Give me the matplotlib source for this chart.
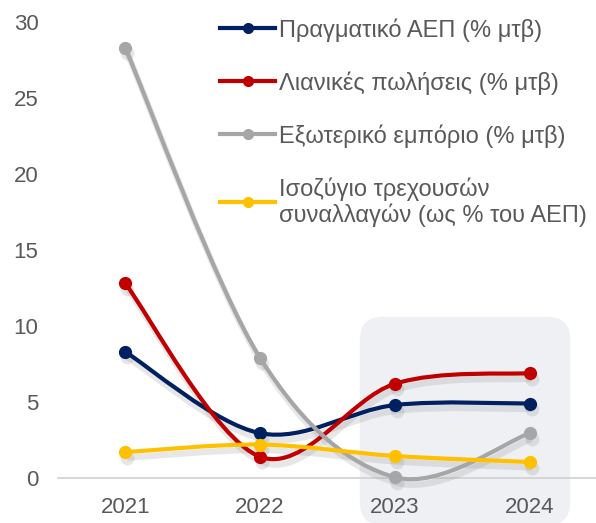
import numpy as np
import matplotlib
matplotlib.use("Agg")
import matplotlib.pyplot as plt
from matplotlib.path import Path
from matplotlib.patches import PathPatch, FancyBboxPatch
from matplotlib.lines import Line2D
import matplotlib.transforms as mtransforms

# data
years = ["2021", "2022", "2023", "2024"]
gdp = [8.3, 2.95, 4.8, 4.9]
retail = [12.8, 1.4, 6.2, 6.9]
trade = [28.3, 7.9, 0.05, 2.95]
current_acc = [1.7, 2.2, 1.45, 1.05]

labels = ["Πραγματικό ΑΕΠ (% μτβ)",
          "Λιανικές πωλήσεις (% μτβ)",
          "Εξωτερικό εμπόριο (% μτβ)",
          "Ισοζύγιο τρεχουσών\nσυναλλαγών (ως % του ΑΕΠ)"]
colors = ["#002060", "#c00000", "#a6a6a6", "#ffc000"]
series = [gdp, retail, trade, current_acc]

plt.rcParams['font.family'] = ['Liberation Sans', 'DejaVu Sans']


def smooth_path(xs, ys):
    # excel-like smoothed line: bezier segments through the points
    pts = np.column_stack([xs, ys]).astype(float)
    n = len(pts)
    verts = [pts[0]]
    codes = [Path.MOVETO]
    for i in range(n - 1):
        p0 = pts[max(i - 1, 0)]
        p1 = pts[i]
        p2 = pts[i + 1]
        p3 = pts[min(i + 2, n - 1)]
        c1 = p1 + (p2 - p0) / 6.0
        c2 = p2 - (p3 - p1) / 6.0
        verts += [c1, c2, p2]
        codes += [Path.CURVE4] * 3
    return Path(verts, codes)


fig = plt.figure(figsize=(5.96, 5.23), dpi=100)
ax = fig.add_axes([0.097, 0.086, 0.905, 0.872])
ax.set_xlim(-0.5, 3.5)
ax.set_ylim(0, 30)

x = np.arange(len(years))

# shaded box behind 2023-2024
ax_w = 0.905 * 596
ax_h = 0.872 * 523
aspect = (30 / ax_h) / (4.0 / ax_w)
box = FancyBboxPatch((1.74, -3.1), 1.56, 13.7,
                     boxstyle="round,pad=0,rounding_size=0.17",
                     mutation_aspect=aspect,
                     fc="#eef0f4", ec="none", zorder=0, clip_on=False)
ax.add_patch(box)

# soft drop shadow offset
shadow_tr = ax.transData + mtransforms.ScaledTranslation(1.5 / 72, -4 / 72, fig.dpi_scale_trans)

for vals, col in zip(series, colors):
    path = smooth_path(x, vals)
    sh = PathPatch(path, fc="none", ec="#7f7f7f", lw=4.5, alpha=0.18,
                   zorder=2, clip_on=False, transform=shadow_tr)
    ax.add_patch(sh)
    ax.plot(x, vals, ls="none", marker="o", ms=10, color="#7f7f7f", alpha=0.18,
            zorder=2, clip_on=False, transform=shadow_tr, markeredgewidth=0)
for vals, col in zip(series, colors):
    patch = PathPatch(smooth_path(x, vals), fc="none", ec=col, lw=3.0,
                      capstyle="round", zorder=3, clip_on=False)
    ax.add_patch(patch)
    ax.plot(x, vals, ls="none", marker="o", ms=8.5, color=col, zorder=4,
            clip_on=False)

# axes styling
for s in ["left", "right", "top"]:
    ax.spines[s].set_visible(False)
ax.spines["bottom"].set_color("#d0d0d0")
ax.spines["bottom"].set_linewidth(1.2)
ax.spines["bottom"].set_zorder(1)
ax.set_xticks(x)
ax.set_xticklabels(years)
ax.set_yticks(range(0, 31, 5))
ax.tick_params(axis="both", length=0, labelsize=16, labelcolor="#595959")
ax.tick_params(axis="y", pad=14)
ax.tick_params(axis="x", pad=14)

# legend
handles = [Line2D([], [], color=c, lw=3.0, marker="o", ms=7) for c in colors]
leg = ax.legend(handles, labels, loc="upper left", bbox_to_anchor=(0.262, 1.055),
                frameon=False, fontsize=17, handlelength=2.3, handletextpad=0.2,
                labelspacing=1.25, labelcolor="#595959")
for t in leg.get_texts():
    t.set_linespacing(1.15)

fig.savefig("out.png", dpi=100)
